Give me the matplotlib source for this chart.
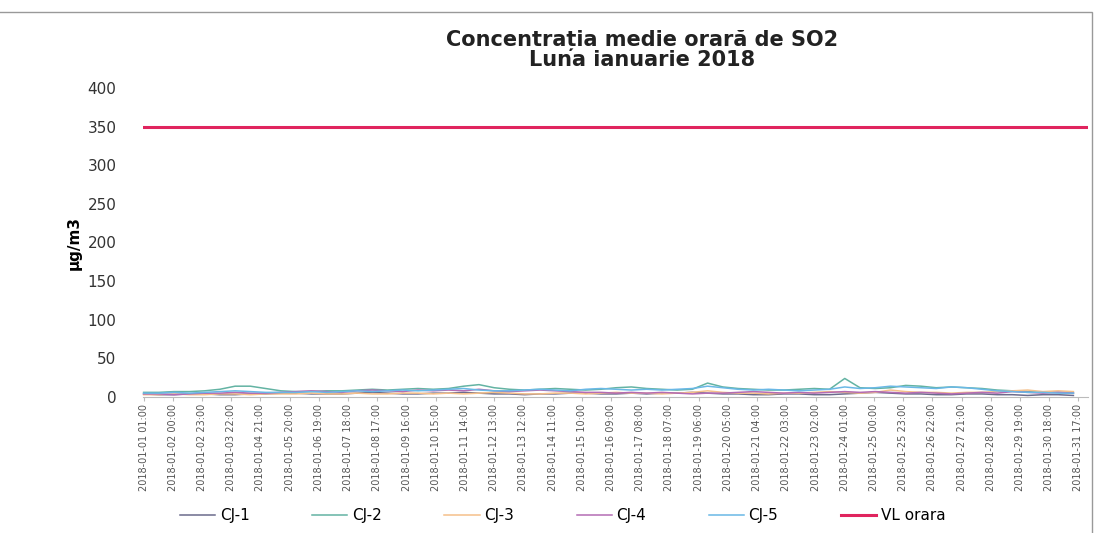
"""Concentratia medie orara de SO2 - ianuarie 2018."""

import matplotlib

matplotlib.use("Agg")
import matplotlib.pyplot as plt
import numpy as np
import pandas as pd
from matplotlib.patches import Rectangle

# hourly categories of the month (2018-01-01 01:00 ... 2018-02-01 00:00)
categories = pd.date_range("2018-01-01 01:00", periods=744, freq="h")
label_step = 23

# values, one every 12 hours (µg/m3)
sample_hours = np.arange(0, 744, 12)

cj1 = [4, 3, 3, 4, 4, 3, 3, 4, 4, 5,
       5, 4, 4, 4, 5, 6, 5, 4, 4, 5,
       5, 6, 5, 4, 4, 3, 4, 4, 5, 5,
       4, 4, 5, 4, 5, 5, 6, 5, 4, 4,
       3, 3, 4, 4, 3, 3, 4, 5, 6, 5,
       4, 4, 3, 3, 4, 4, 3, 3, 2, 3,
       3, 2]
cj2 = [6, 6, 7, 7, 8, 10, 14, 14, 11, 8,
       7, 7, 8, 8, 9, 10, 9, 10, 11, 10,
       11, 14, 16, 12, 10, 9, 10, 11, 10, 9,
       10, 12, 13, 11, 10, 9, 10, 18, 13, 11,
       10, 9, 9, 10, 11, 10, 24, 12, 11, 12,
       15, 14, 12, 13, 12, 11, 9, 8, 7, 6,
       6, 5]
cj3 = [3, 3, 4, 3, 3, 4, 4, 3, 4, 4,
       4, 5, 4, 4, 5, 4, 4, 5, 5, 4,
       5, 4, 5, 6, 5, 4, 4, 5, 5, 4,
       5, 6, 5, 5, 4, 5, 6, 8, 6, 5,
       5, 4, 5, 5, 6, 7, 6, 5, 6, 9,
       7, 6, 6, 5, 6, 6, 7, 8, 9, 7,
       8, 7]
cj4 = [4, 4, 3, 4, 5, 5, 6, 5, 5, 6,
       7, 8, 7, 6, 8, 9, 8, 7, 9, 8,
       9, 8, 10, 8, 7, 8, 9, 8, 7, 6,
       6, 5, 6, 5, 6, 5, 4, 5, 5, 6,
       7, 6, 5, 6, 5, 6, 7, 6, 7, 6,
       5, 6, 5, 4, 5, 6, 5, 7, 6, 5,
       6, 5]
cj5 = [5, 5, 6, 5, 6, 7, 8, 7, 6, 6,
       6, 7, 6, 7, 8, 7, 8, 9, 8, 9,
       10, 11, 9, 8, 8, 9, 10, 9, 8, 10,
       11, 10, 9, 10, 9, 10, 11, 14, 12, 10,
       9, 10, 9, 8, 9, 10, 13, 11, 12, 14,
       13, 12, 11, 13, 12, 10, 8, 7, 6, 6,
       5, 5]
vl_orara = 350

series = [
    ("CJ-1", cj1, "#6b6b8c"),
    ("CJ-2", cj2, "#63b3a3"),
    ("CJ-3", cj3, "#f5c08a"),
    ("CJ-4", cj4, "#b46cb4"),
    ("CJ-5", cj5, "#6ab8e6"),
]

plt.rcParams.update({
    "font.family": "DejaVu Sans",
    "figure.facecolor": "white",
    "axes.facecolor": "white",
})

fig = plt.figure(figsize=(10.99, 5.33), dpi=100)
ax = fig.add_axes([143 / 1099, 1 - 397 / 533, (1088 - 143) / 1099, (397 - 88) / 533])

for name, values, color in series:
    ax.plot(sample_hours, values, color=color, linewidth=1.1, label=name,
            clip_on=False)
ax.plot([0, len(categories) - 1], [vl_orara, vl_orara], color="#e0245e",
        linewidth=2.2, label="VL orara")

ax.set_xlim(-0.5, len(categories) - 0.5)
ax.set_ylim(0, 400)
ax.set_yticks(np.arange(0, 401, 50))
ax.tick_params(axis="y", length=0, labelsize=11, labelcolor="#333333", pad=19)

tick_pos = np.arange(0, len(categories), label_step)
ax.set_xticks(tick_pos)
ax.set_xticklabels([categories[i].strftime("%Y-%m-%d %H:%M") for i in tick_pos],
                   rotation=90, fontsize=7, color="#555555")
ax.tick_params(axis="x", length=3, color="#bbbbbb", pad=2)

for side in ("top", "right", "left"):
    ax.spines[side].set_visible(False)
ax.spines["bottom"].set_color("#bbbbbb")

ax.set_ylabel("µg/m3", fontsize=11, fontweight="bold", labelpad=4)

fig.text(0.584, 0.906, "Concentrația medie orară de SO2\nLuna ianuarie 2018",
         ha="center", va="center", fontsize=15, fontweight="bold",
         color="#222222", linespacing=0.93)

handles, labels = ax.get_legend_handles_labels()
fig.legend(handles, labels, loc="center", bbox_to_anchor=(0.512, 0.032),
           ncol=6, frameon=False, fontsize=11, handlelength=2.3,
           handletextpad=0.3, columnspacing=4.1)

# chart area border
fig.patches.append(Rectangle((-0.01, -0.05), 1.004, 1.027,
                             transform=fig.transFigure, fill=False,
                             edgecolor="#999999", linewidth=1))

fig.savefig("out.png", dpi=100)
